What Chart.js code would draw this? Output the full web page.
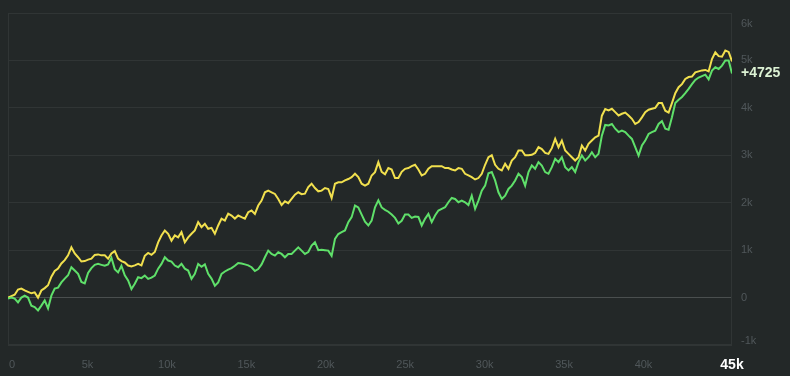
<!DOCTYPE html>
<html>
<head>
<meta charset="utf-8">
<script src="https://cdn.jsdelivr.net/npm/chart.js@4.4.0/dist/chart.umd.min.js"></script>
<style>
  html, body { margin: 0; padding: 0; background: #232828; }
  canvas { display: block; }
</style>
</head>
<body>
<canvas id="lineChart" width="790" height="376"></canvas>
<script>
// -- Data --
// one sample every 210 games
const sampleEvery = 210

const yellowValues = [
  0, 30, 60, 170, 190, 150, 120, 90, 110, 0,
  150, 200, 260, 440, 560, 610, 720, 790, 890, 1060,
  930, 850, 760, 770, 800, 820, 900, 910, 890, 890,
  820, 930, 980, 820, 770, 740, 675, 655, 680, 710,
  680, 880, 940, 900, 960, 1165, 1310, 1415, 1345, 1200,
  1310, 1270, 1380, 1165, 1270, 1345, 1415, 1590, 1485, 1555,
  1450, 1470, 1345, 1520, 1665, 1625, 1770, 1730, 1665, 1730,
  1695, 1665, 1800, 1835, 1765, 1940, 2045, 2220, 2255, 2220,
  2185, 2080, 1950, 2030, 1990, 2080, 2170, 2220, 2180, 2190,
  2330, 2400, 2310, 2240, 2255, 2310, 2290, 2100, 2400, 2430,
  2430, 2470, 2500, 2540, 2610, 2540, 2400, 2360, 2400, 2575,
  2645, 2855, 2650, 2600, 2730, 2700, 2520, 2520, 2650, 2715,
  2730, 2770, 2800, 2700, 2575, 2610, 2715, 2770, 2770, 2770,
  2770, 2730, 2730, 2700, 2680, 2730, 2715, 2610, 2575, 2540,
  2490, 2520, 2610, 2800, 2960, 3000, 2800, 2715, 2680, 2820,
  2715, 2890, 2960, 3100, 3100, 3000, 3000, 3010, 3050, 3170,
  3130, 3050, 3030, 3150, 3345, 3170, 3310, 3100, 3030, 2960,
  2890, 2960, 3205, 3100, 3240, 3310, 3380, 3415, 3835, 3975,
  3945, 3980, 3910, 3840, 3875, 3900, 3840, 3770, 3660, 3700,
  3800, 3910, 3960, 3980, 4000, 4100, 4100, 3940, 3900, 4100,
  4310, 4435, 4500, 4610, 4650, 4660, 4750, 4770, 4790, 4800,
  4770, 5030, 5170, 5090, 5080, 5210, 5180, 4980
]

const greenValues = [
  -20, 0, -20, -100, 0, 40, 0, -170, -200, -270,
  -170, -60, -230, 40, 190, 210, 320, 400, 470, 640,
  570, 500, 330, 300, 520, 620, 690, 710, 690, 670,
  700, 840, 600, 530, 670, 470, 360, 180, 290, 430,
  410, 465, 395, 420, 465, 610, 710, 850, 780, 760,
  675, 640, 710, 610, 570, 395, 500, 710, 650, 700,
  500, 400, 250, 320, 500, 550, 590, 620, 670, 730,
  720, 700, 680, 640, 560, 600, 700, 850, 990, 920,
  885, 955, 920, 850, 920, 920, 990, 1060, 990, 920,
  960, 1095, 1165, 1000, 1010, 1000, 990, 880, 1235, 1340,
  1380, 1415, 1590, 1695, 1940, 1900, 1750, 1600, 1520, 1625,
  1905, 2050, 1900, 1850, 1810, 1750, 1680, 1560, 1620, 1750,
  1750, 1680, 1710, 1700, 1520, 1660, 1765, 1590, 1730, 1835,
  1870, 1905, 2010, 2100, 2080, 2010, 2045, 2010, 1950, 2150,
  1870, 2045, 2255, 2360, 2620, 2645, 2470, 2220, 2080, 2150,
  2290, 2360, 2470, 2610, 2540, 2360, 2645, 2785, 2715, 2855,
  2785, 2645, 2610, 2750, 2925, 2855, 2960, 2750, 2680, 2750,
  2645, 2855, 2995, 2890, 2960, 3065, 2960, 3030, 3415, 3640,
  3630, 3660, 3560, 3490, 3520, 3490, 3415, 3345, 3170, 2995,
  3205, 3310, 3450, 3490, 3520, 3660, 3720, 3560, 3540, 3800,
  4100, 4170, 4230, 4310, 4400, 4500, 4590, 4640, 4670, 4700,
  4600, 4785, 4855, 4820, 4890, 5000, 5000, 4725
]

const xTicks = [0, 5000, 10000, 15000, 20000, 25000, 30000, 35000, 40000]
const xTickLabels = ["0", "5k", "10k", "15k", "20k", "25k", "30k", "35k", "40k"]
const yTicks = [-1000, 0, 1000, 2000, 3000, 4000, 5000, 6000]
const yTickLabels = ["-1k", "0", "1k", "2k", "3k", "4k", "5k", "6k"]
const endLabel = "45k"

// -- Colours --
const gridColor = "#303535"
const zeroColor = "#4a4f4f"
const tickColor = "#50575a"
const yellow = "#f1e04e"
const green = "#5fe06a"

let toPoints = function(values) {
  return values.map((v, i) => ({ x: i * sampleEvery, y: v }))
}

const lastX = (yellowValues.length - 1) * sampleEvery

// labels and frame, drawn through the chart's own scales
let labelPlugin = {
  id: "labels",
  beforeDatasetsDraw(chart) {
    let ctx = chart.ctx
    let a = chart.chartArea
    ctx.save()
    ctx.strokeStyle = gridColor
    ctx.lineWidth = 1
    ctx.strokeRect(Math.round(a.left) + 0.5, Math.round(a.top) + 0.5,
      Math.round(a.right - a.left) - 1, Math.round(a.bottom - a.top) - 1)
    ctx.restore()
  },
  afterDraw(chart) {
    let ctx = chart.ctx
    let a = chart.chartArea
    let xs = chart.scales.x
    let ys = chart.scales.y
    ctx.save()
    ctx.font = "11px 'Liberation Sans', Arial, sans-serif"
    ctx.fillStyle = tickColor
    ctx.textBaseline = "middle"

    // x ticks
    xTicks.forEach((v, i) => {
      let px = xs.getPixelForValue(v)
      ctx.textAlign = i === 0 ? "left" : "center"
      ctx.fillText(xTickLabels[i], i === 0 ? px + 1 : px, a.bottom + 20)
    })

    // y ticks (kept inside the frame at the ends)
    ctx.textAlign = "left"
    yTicks.forEach((v, i) => {
      let py = ys.getPixelForValue(v)
      py = Math.max(a.top + 11, Math.min(a.bottom - 4, py))
      ctx.fillText(yTickLabels[i], a.right + 9, py)
    })

    // current value of the green series
    let last = greenValues[greenValues.length - 1]
    ctx.font = "bold 14px 'Liberation Sans', Arial, sans-serif"
    ctx.fillStyle = "#dcf2d4"
    ctx.fillText("+" + last, a.right + 9, ys.getPixelForValue(last))

    // current game count
    ctx.fillStyle = "#ffffff"
    ctx.textAlign = "center"
    ctx.fillText(endLabel, xs.getPixelForValue(lastX), a.bottom + 20)
    ctx.restore()
  }
}

let create_chart = function() {
  let ctx = document.getElementById("lineChart")
  return new Chart(ctx, {
    type: "line",
    data: {
      datasets: [{
        label: "green",
        data: toPoints(greenValues),
        borderColor: green,
        borderWidth: 2,
        pointRadius: 0,
        tension: 0
      },
      {
        label: "yellow",
        data: toPoints(yellowValues),
        borderColor: yellow,
        borderWidth: 2,
        pointRadius: 0,
        tension: 0
      }]
    },
    options: {
      responsive: false,
      animation: false,
      layout: { padding: { left: 8, top: 13, right: 58, bottom: 31 } },
      plugins: {
        legend: { display: false },
        tooltip: { enabled: false }
      },
      scales: {
        x: {
          type: "linear",
          min: 0,
          max: lastX,
          grid: { display: false, drawTicks: false },
          border: { display: false },
          ticks: { display: false }
        },
        y: {
          position: "right",
          min: -1000,
          max: 6000,
          afterBuildTicks: (scale) => { scale.ticks = yTicks.map(v => ({ value: v })) },
          grid: {
            drawTicks: false,
            color: (c) => c.tick && c.tick.value === 0 ? zeroColor : gridColor
          },
          border: { display: false },
          ticks: { display: false }
        }
      }
    },
    plugins: [labelPlugin]
  })
}

create_chart()
</script>
</body>
</html>
